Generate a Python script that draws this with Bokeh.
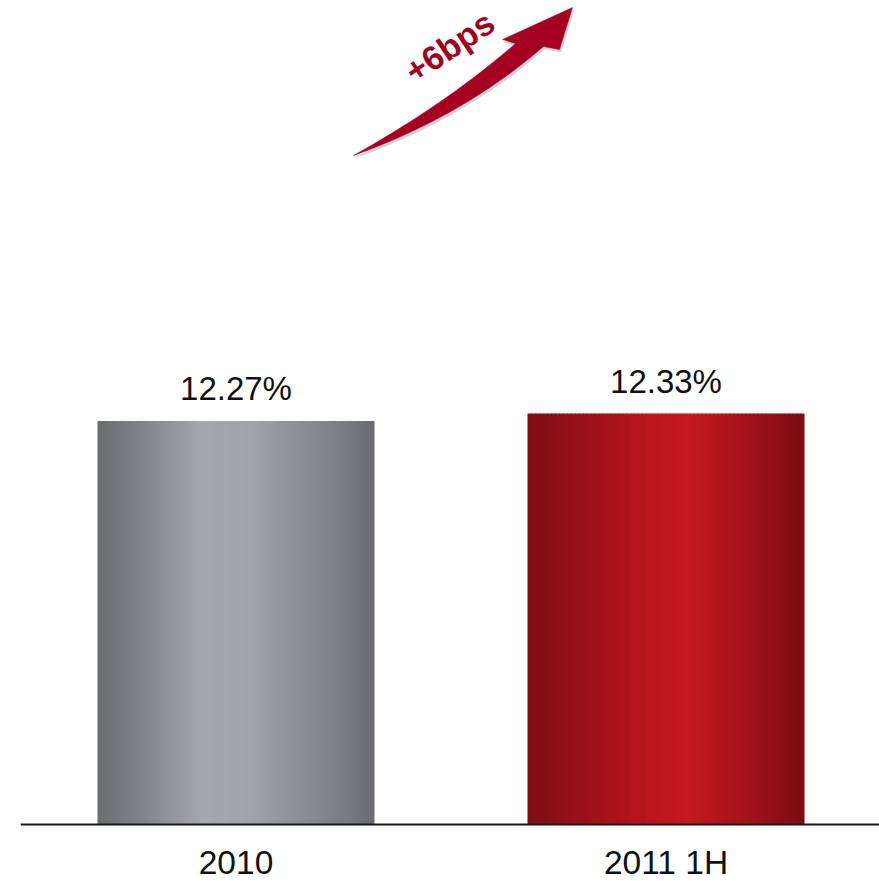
import numpy as np
from bokeh.plotting import figure
from bokeh.models import Range1d, ColumnDataSource, LabelSet, Label, Span
from bokeh.embed import file_html
from bokeh.resources import INLINE
from bokeh.core.properties import value

# ---- data ----
categories = ["2010", "2011 1H"]
rates = [12.27, 12.33]
rate_labels = ["12.27%", "12.33%"]
change_label = "+6bps"
base_value = 9.0

# ---- layout ----
W, H = 879, 881
FL = 20
BASE_PX = 824          # pixel row of the baseline
frame_w = W - FL
frame_h = H
px_per_cat = 430.0
x_start = 1 - 215.5 / px_per_cat
x_end = x_start + frame_w / px_per_cat
px_per_unit = 123.4
y_start = base_value - (H - BASE_PX) / px_per_unit
y_end = y_start + frame_h / px_per_unit
bar_w = 277.0 / px_per_cat

xpos = [i + 1 for i in range(len(categories))]

p = figure(width=W, height=H, output_backend="svg", toolbar_location=None,
           x_range=Range1d(x_start, x_end), y_range=Range1d(y_start, y_end),
           min_border_left=FL, min_border_right=0, min_border_top=0,
           min_border_bottom=0, x_axis_location=None, y_axis_location=None)
p.outline_line_color = None
p.xgrid.visible = False
p.ygrid.visible = False
p.background_fill_color = "white"
p.border_fill_color = "white"

# ---- gradient bars (vertical strips) ----
def hex2rgb(h):
    h = h.lstrip("#")
    return np.array([int(h[i:i + 2], 16) for i in (0, 2, 4)], dtype=float)

def grad(stops, t):
    pos = [s[0] for s in stops]
    cols = np.array([hex2rgb(s[1]) for s in stops])
    rgb = [np.interp(t, pos, cols[:, k]) for k in range(3)]
    return "#%02x%02x%02x" % tuple(int(round(c)) for c in rgb)

gradients = [
    [(0.0, "#6b6c70"), (0.12, "#7c7d81"), (0.38, "#a6a7ab"), (0.55, "#a3a4a8"), (0.85, "#808185"), (1.0, "#6a6b6f")],
    [(0.0, "#7f0d13"), (0.15, "#941016"), (0.45, "#bb161d"), (0.58, "#c5181f"), (0.85, "#981117"), (1.0, "#7a0c10")],
]

N = 70
overlap = 0.8 / px_per_cat
ql, qr, qt, qc = [], [], [], []
for i, (xc, v) in enumerate(zip(xpos, rates)):
    left = xc - bar_w / 2
    dw = bar_w / N
    for k in range(N):
        t = (k + 0.5) / N
        ql.append(left + k * dw)
        qr.append(left + (k + 1) * dw + (overlap if k < N - 1 else 0))
        qt.append(v)
        qc.append(grad(gradients[i], t))
src = ColumnDataSource(dict(left=ql, right=qr, top=qt, color=qc))
p.quad(left="left", right="right", top="top", bottom=base_value, source=src,
       fill_color="color", line_color=None)

# ---- baseline (category axis line) ----
p.add_layout(Span(location=base_value, dimension="width",
                  line_color="#1a1a1a", line_width=2))

# ---- value labels ----
lab_src = ColumnDataSource(dict(x=xpos, y=rates, text=rate_labels))
p.add_layout(LabelSet(x="x", y="y", text="text", source=lab_src, y_offset=21,
                      text_align="center", text_baseline="alphabetic",
                      text_font=value("Liberation Sans"), text_font_size="33px",
                      text_color="#111111"))

# ---- category labels (below the baseline) ----
cat_src = ColumnDataSource(dict(x=xpos, y=[base_value] * len(xpos), text=categories))
p.add_layout(LabelSet(x="x", y="y", text="text", source=cat_src, y_offset=-49,
                      text_align="center", text_baseline="alphabetic",
                      text_font=value("Liberation Sans"), text_font_size="33.5px",
                      text_color="#111111"))

# ---- arrow (decoration, defined in reference pixel space) ----
def to_data(px, py):
    dx = x_start + (px - FL) / px_per_cat
    dy = y_start + (frame_h - py) / px_per_unit
    return dx, dy

def qbez(a, c, b, n=40):
    t = np.linspace(0, 1, n)[:, None]
    a, c, b = np.array(a), np.array(c), np.array(b)
    return (1 - t) ** 2 * a + 2 * t * (1 - t) * c + t ** 2 * b

tail = (353, 155)
up_neck, lo_neck = (515, 43), (543, 46)
upper = qbez(tail, (446, 103), up_neck)
lower = qbez(tail, (462, 116), lo_neck)[::-1]
head = np.array([up_neck, (502, 39), (572, 7), (559, 49), lo_neck])
poly = np.vstack([upper, head, lower])

def add_arrow(offx, offy, color):
    xs, ys = zip(*[to_data(x + offx, y + offy) for x, y in poly])
    p.patch(list(xs), list(ys), fill_color=color, line_color=color, line_width=0.5)

add_arrow(1.5, 2.5, "#c9d3df")
add_arrow(0, 0, "#a50021")

tx, ty = to_data(449, 46)
p.add_layout(Label(x=tx, y=ty, text=change_label, angle=float(np.deg2rad(34)),
                   text_align="center", text_baseline="middle",
                   text_font="Liberation Sans", text_font_style="bold",
                   text_font_size="34px", text_color="#a3001f"))

open("out.html", "w").write(file_html(p, INLINE))
